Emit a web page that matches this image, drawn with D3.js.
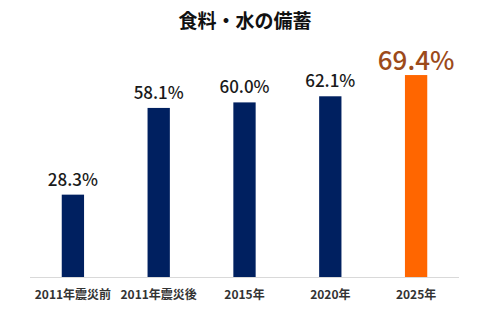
<!DOCTYPE html>
<html><head><meta charset="utf-8">
<script src="https://cdn.jsdelivr.net/npm/d3@7"></script>
<style>body{margin:0;background:#fff}svg{display:block}</style>
</head><body>
<script>
const categories = ["2011年震災前","2011年震災後","2015年","2020年","2025年"];
const values = [28.3, 58.1, 60.0, 62.1, 69.4];
const highlight = [false,false,false,false,true];
const title = "食料・水の備蓄";

const W=488,H=328;
const font='"Noto Sans CJK JP","Noto Sans",sans-serif';
const svg=d3.select("body").append("svg").attr("width",W).attr("height",H);
const x=d3.scaleBand().domain(categories).range([30,459]).paddingInner(0.74).paddingOuter(0.37);
const y=d3.scaleLinear().domain([0,80]).range([277,277-80*2.91]);

svg.append("text").attr("x",245).attr("y",28).attr("text-anchor","middle")
  .attr("font-family",font).attr("font-weight",700).attr("font-size",19).attr("fill","#111").text(title);

svg.append("line").attr("x1",30).attr("x2",459).attr("y1",277.5).attr("y2",277.5)
  .attr("stroke","#d9d9d9").attr("stroke-width",1);

const data=categories.map((c,i)=>({c,v:values[i],h:highlight[i]}));
svg.selectAll("rect.bar").data(data).join("rect").attr("class","bar")
  .attr("x",d=>x(d.c)).attr("width",x.bandwidth())
  .attr("y",d=>y(d.v)).attr("height",d=>y(0)-y(d.v))
  .attr("fill",d=>d.h?"#ff6600":"#002060");

svg.selectAll("text.val").data(data).join("text").attr("class","val")
  .attr("x",d=>x(d.c)+x.bandwidth()/2).attr("y",d=>y(d.v)-(d.h?5:9))
  .attr("text-anchor","middle").attr("font-family",font)
  .attr("font-weight",500).attr("font-size",d=>d.h?26:17)
  .attr("fill",d=>d.h?"#9c4a1a":"#1a1a1a").text(d=>d.v.toFixed(1)+"%");

const ax=svg.append("g").attr("transform","translate(0,277)").call(d3.axisBottom(x).tickSize(0).tickPadding(0));
ax.select(".domain").remove();
ax.selectAll("text").attr("y",22).attr("dy",0).attr("font-family",font).attr("font-weight",700)
  .attr("font-size",12).attr("fill","#333");
</script>
</body></html>
